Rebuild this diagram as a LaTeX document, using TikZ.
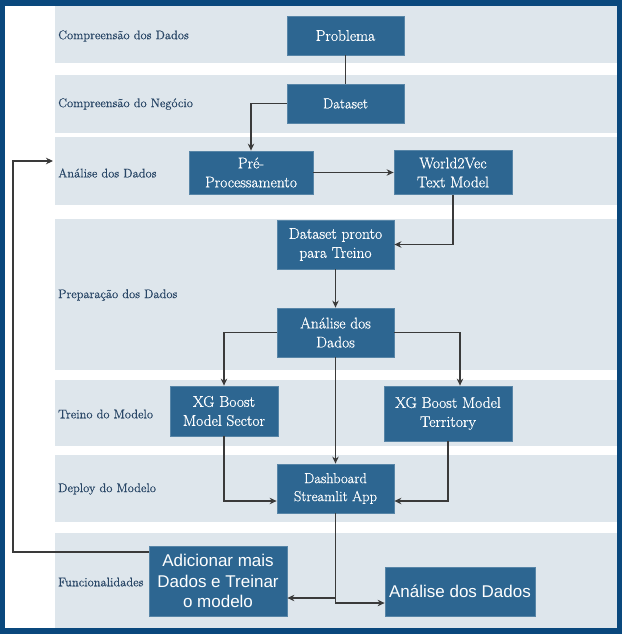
\documentclass[tikz,border=0pt]{standalone}
\usepackage{fontspec}
\newfontfamily\sansf{Liberation Sans}
\newfontfamily\wserif{Latin Modern Roman}[FakeBold=0.6]
\usetikzlibrary{arrows.meta,positioning}
\definecolor{framecol}{RGB}{10,72,125}
\definecolor{lanefill}{RGB}{222,230,236}
\definecolor{labelcol}{RGB}{40,70,102}
\definecolor{boxblue}{RGB}{45,102,145}
\definecolor{linecol}{RGB}{58,58,58}
\tikzset{
  lanebox/.style={fill=lanefill,draw=none,inner sep=0,outer sep=0},
  lanelabel/.style={anchor=west,text=labelcol,inner sep=0,font=\wserif\fontsize{12.5}{15}\selectfont},
  stepbox/.style={fill=boxblue,draw=boxblue!80!white,line width=0.8pt,text=white,align=center,inner sep=0,font=\wserif\fontsize{15.5}{19}\selectfont},
  smallbox/.style={stepbox,font=\wserif\fontsize{14.5}{18}\selectfont},
  sansbox/.style={stepbox,font=\sansf\fontsize{17}{20.5}\selectfont},
  conn/.style={draw=linecol,line width=1.1pt,-{Stealth[length=7pt,width=6.5pt]}},
  plainconn/.style={draw=linecol,line width=1.1pt}
}
\begin{document}
\begin{tikzpicture}[x=1pt,y=-1pt]
\useasboundingbox (0,0) rectangle (622,634);
% frame
\fill[framecol] (0,0) rectangle (622,634);
\fill[white] (5,6) rectangle (617,628);
% lanes
\node[lanebox,minimum width=562pt,minimum height=57pt,anchor=north west] (lane1) at (55,6) {};
\node[lanebox,minimum width=562pt,minimum height=58pt,anchor=north west] (lane2) at (55,75) {};
\node[lanebox,minimum width=562pt,minimum height=68pt,anchor=north west] (lane3) at (55,137) {};
\node[lanebox,minimum width=562pt,minimum height=151pt,anchor=north west] (lane4) at (55,219) {};
\node[lanebox,minimum width=562pt,minimum height=66pt,anchor=north west] (lane5) at (55,380) {};
\node[lanebox,minimum width=562pt,minimum height=67pt,anchor=north west] (lane6) at (55,455) {};
\node[lanebox,minimum width=562pt,minimum height=95pt,anchor=north west] (lane7) at (55,533) {};
% lane labels
\node[lanelabel] (t1) at (58,36) {Compreensão dos Dados};
\node[lanelabel] (t2) at (58,104) {Compreensão do Negócio};
\node[lanelabel] (t3) at (58,173) {Análise dos Dados};
\node[lanelabel] (t4) at (58,295) {Preparação dos Dados};
\node[lanelabel] (t5) at (58,414) {Treino do Modelo};
\node[lanelabel] (t6) at (58,489) {Deploy do Modelo};
\node[lanelabel] (t7) at (58,582) {Funcionalidades};
% boxes
\node[stepbox,minimum width=117pt,minimum height=39pt] (prob) at (345.5,35.5) {Problema};
\node[smallbox,minimum width=117pt,minimum height=39pt] (data) at (345.5,103.5) {Dataset};
\node[stepbox,minimum width=124pt,minimum height=43pt] (pre) at (251,172.5) {Pré-\\Processamento};
\node[stepbox,minimum width=118pt,minimum height=44pt] (w2v) at (453,172.5) {World2Vec\\Text Model};
\node[stepbox,minimum width=117pt,minimum height=49pt] (dpt) at (335.5,244.5) {Dataset pronto\\para Treino};
\node[stepbox,minimum width=117pt,minimum height=49pt] (ad) at (335.5,332.5) {Análise dos\\Dados};
\node[stepbox,minimum width=108pt,minimum height=50pt] (xgs) at (224,411) {XG Boost\\Model Sector};
\node[stepbox,minimum width=128pt,minimum height=55pt] (xgt) at (448,413.5) {XG Boost Model\\Territory};
\node[smallbox,minimum width=117pt,minimum height=49pt] (dash) at (335.5,488.5) {Dashboard\\Streamlit App};
\node[sansbox,minimum width=138pt,minimum height=70pt] (add) at (218,581) {Adicionar mais\\Dados e Treinar\\o modelo};
\node[sansbox,minimum width=150pt,minimum height=49pt] (ad2) at (460,591.5) {Análise dos Dados};
% feedback coordinates
\coordinate (fbleft) at (13,161);
\coordinate (fbtip) at (53,161);
% connectors
\draw[plainconn] (prob.south) -- (data.north);
\draw[conn] (data.west) -| (pre.north);
\draw[conn] (pre.east) -- (w2v.west);
\draw[conn] (w2v.south) |- (dpt.east);
\draw[conn] (dpt.south) -- (ad.north);
\draw[conn] (ad.west) -| (xgs.north);
\draw[conn] (ad.east) -| ([xshift=12pt]xgt.north);
\draw[conn] (ad.south) -- (dash.north);
\draw[conn] (xgs.south) |- ([yshift=-12.5pt]dash.west);
\draw[conn] (xgt.south) |- ([yshift=-12.5pt]dash.east);
\draw[conn] (dash.south) |- ([yshift=-17pt]add.east);
\draw[conn] (dash.south) |- ([yshift=-11.5pt]ad2.west);
\draw[conn] ([yshift=29pt]add.west) -| (fbleft) -- (fbtip);
\end{tikzpicture}
\end{document}
